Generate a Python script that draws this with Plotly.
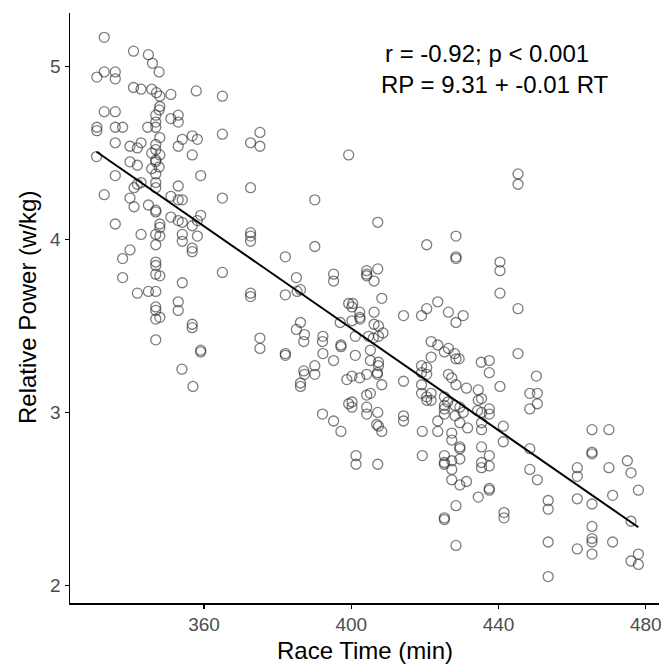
import numpy as np
import plotly.graph_objects as go

race_time = [
    332.9, 340.85, 344.9, 346.0, 347.8, 332.9, 330.9, 335.9, 335.9, 340.85,
    342.9, 345.8, 347.1, 348.0, 351.0, 357.9, 365.0, 348.0, 347.8, 332.9,
    335.9, 346.9, 351.0, 353.0, 353.0, 346.9, 346.9, 344.7, 330.9, 330.9,
    335.9, 337.9, 348.0, 342.9, 339.9, 341.9, 335.9, 353.0, 354.1, 356.8,
    358.2, 365.0, 372.65, 346.9, 346.9, 345.8, 348.0, 346.9, 356.8, 330.8,
    339.9, 341.9, 345.8, 347.8, 346.9, 335.9, 359.1, 346.9,
    342.9, 341.9, 341.0, 346.9, 346.9, 353.0, 332.9, 339.9, 351.0, 353.0,
    354.1, 365.0, 372.65, 341.0, 344.9, 346.9, 346.9, 335.9, 351.0, 353.0,
    354.1, 348.0, 356.8, 358.2, 359.1, 348.0, 342.9, 346.9, 348.0, 354.1,
    358.2, 372.65, 372.65, 372.65, 346.9, 354.1, 356.8, 356.8, 339.9, 337.9,
    346.9, 346.9, 346.9, 348.0, 337.9, 354.1, 365.0, 372.65, 372.65, 341.9,
    344.9, 346.9, 353.0, 353.0, 346.9, 346.9, 346.9, 348.0, 356.8,
    356.8, 346.9, 359.1, 359.1, 354.0, 357.0,
    375.2, 375.2, 399.3, 390.1, 407.2, 420.5, 390.1, 382.1, 385.1, 395.2,
    404.2, 404.2, 404.2, 407.2,
    395.2, 406.2, 382.1, 385.3, 386.2, 399.3, 400.2, 400.4, 402.3, 402.3,
    402.4, 406.2, 408.3, 414.2, 419.1, 420.5, 397.0, 400.2, 386.2, 385.1,
    387.3, 387.1, 375.2, 375.2, 392.3, 392.2, 397.2, 397.2, 392.3, 382.1,
    382.1, 395.2, 401.1, 401.1, 406.2, 407.4, 404.7, 406.0, 407.4, 408.6,
    405.2, 405.2, 407.4, 407.4, 407.1, 407.1, 404.2, 390.1, 390.1, 387.1,
    387.3, 398.8, 400.2, 402.3, 419.1, 419.1, 420.5, 420.5, 414.2, 386.2,
    408.3,
    386.2, 419.1, 419.1, 420.5, 420.5, 404.2, 405.2, 399.3, 400.2, 400.2,
    404.2, 404.2, 407.2, 392.2, 395.2, 397.2, 406.9, 407.4, 408.3, 414.2,
    414.2, 419.3, 401.3, 401.3, 407.2, 419.3,
    445.3, 445.3, 428.45, 428.45, 428.45, 440.4, 440.4,
    440.4, 445.3, 423.5, 426.4, 428.45, 430.4, 421.7, 423.5, 425.3, 426.4,
    421.7, 428.1, 428.45, 429.3, 435.3, 437.5, 437.5, 445.3, 450.3, 426.4,
    427.3,
    428.45, 431.3, 434.5, 440.4, 448.5, 450.55, 450.55, 448.5, 421.7, 421.7,
    425.3, 425.3, 425.3, 426.2, 428.2, 429.5, 430.4, 428.2, 425.3, 434.5,
    435.4, 434.3, 435.4, 437.5, 437.5, 423.5, 423.5, 429.5, 431.6, 435.4,
    435.4, 441.3, 441.3, 427.3, 427.3, 435.4, 429.5, 429.5, 425.3, 425.3,
    425.3, 427.3, 427.3, 429.5, 435.4, 435.4, 437.5, 437.5, 448.5, 448.5,
    450.55, 461.4, 461.4, 465.4, 465.4, 465.4, 427.3, 429.5, 431.3, 437.5,
    434.5, 437.5, 428.45, 425.3, 425.3, 441.5, 441.5, 453.5, 453.5, 461.4,
    465.4, 428.45, 453.5, 461.4, 465.4, 465.4, 465.4, 465.4, 453.5,
    470.0, 470.0, 471.0, 471.0, 475.0, 476.0, 476.0, 476.0, 478.0, 478.0, 478.0,
]

rel_power = [
    5.17, 5.09, 5.07, 5.02, 4.97, 4.97, 4.94, 4.97, 4.93, 4.88,
    4.87, 4.87, 4.85, 4.83, 4.84, 4.86, 4.83, 4.77, 4.75, 4.74,
    4.74, 4.72, 4.70, 4.72, 4.68, 4.68, 4.65, 4.65, 4.65, 4.63,
    4.65, 4.65, 4.59, 4.56, 4.54, 4.53, 4.56, 4.54, 4.58, 4.60,
    4.58, 4.61, 4.56, 4.55, 4.52, 4.50, 4.49, 4.46, 4.49, 4.48,
    4.45, 4.43, 4.41, 4.42, 4.38, 4.37, 4.37, 4.45,
    4.33, 4.32, 4.30, 4.33, 4.30, 4.31, 4.26, 4.24, 4.25, 4.23,
    4.23, 4.24, 4.30, 4.19, 4.20, 4.17, 4.16, 4.09, 4.13, 4.11,
    4.10, 4.09, 4.08, 4.11, 4.14, 4.07, 4.03, 4.03, 4.02, 4.03,
    4.02, 4.04, 4.02, 3.99, 3.97, 3.99, 3.95, 3.93, 3.94, 3.89,
    3.87, 3.85, 3.80, 3.79, 3.78, 3.75, 3.81, 3.69, 3.67, 3.69,
    3.70, 3.70, 3.64, 3.59, 3.61, 3.59, 3.54, 3.55, 3.51,
    3.49, 3.42, 3.36, 3.35, 3.25, 3.15,
    4.62, 4.54, 4.49, 4.23, 4.10, 3.97, 3.96, 3.90, 3.78, 3.80,
    3.82, 3.80, 3.79, 3.83,
    3.76, 3.76, 3.68, 3.70, 3.71, 3.63, 3.61, 3.63, 3.58, 3.55,
    3.54, 3.58, 3.66, 3.56, 3.56, 3.60, 3.52, 3.53, 3.52, 3.48,
    3.45, 3.41, 3.43, 3.37, 3.44, 3.41, 3.39, 3.38, 3.34, 3.34,
    3.33, 3.30, 3.44, 3.33, 3.51, 3.50, 3.44, 3.43, 3.44, 3.46,
    3.36, 3.30, 3.29, 3.27, 3.23, 3.22, 3.22, 3.27, 3.22, 3.24,
    3.22, 3.19, 3.21, 3.20, 3.27, 3.23, 3.26, 3.22, 3.18, 3.17,
    3.16,
    3.15, 3.16, 3.11, 3.09, 3.07, 3.10, 3.11, 3.05, 3.06, 3.03,
    3.03, 2.99, 3.00, 2.99, 2.95, 2.89, 2.93, 2.92, 2.89, 2.98,
    2.95, 2.89, 2.75, 2.70, 2.70, 2.75,
    4.38, 4.32, 4.02, 3.90, 3.89, 3.87, 3.82,
    3.69, 3.60, 3.64, 3.58, 3.52, 3.56, 3.41, 3.39, 3.35, 3.37,
    3.32, 3.34, 3.31, 3.31, 3.29, 3.30, 3.23, 3.34, 3.21, 3.22,
    3.20,
    3.16, 3.14, 3.13, 3.15, 3.11, 3.11, 3.05, 3.02, 3.11, 3.07,
    3.09, 3.04, 3.02, 3.06, 3.04, 3.03, 3.00, 2.98, 2.99, 3.07,
    3.08, 3.01, 3.00, 3.02, 2.99, 2.95, 2.89, 2.94, 2.91, 2.94,
    2.90, 2.92, 2.83, 2.88, 2.84, 2.80, 2.80, 2.79, 2.75, 2.71,
    2.70, 2.72, 2.67, 2.73, 2.71, 2.68, 2.75, 2.69, 2.79, 2.67,
    2.61, 2.68, 2.63, 2.90, 2.77, 2.76, 2.61, 2.58, 2.60, 2.56,
    2.51, 2.55, 2.46, 2.39, 2.38, 2.42, 2.39, 2.49, 2.44, 2.50,
    2.47, 2.23, 2.25, 2.21, 2.34, 2.27, 2.25, 2.18, 2.05,
    2.90, 2.68, 2.52, 2.25, 2.72, 2.65, 2.37, 2.14, 2.55, 2.18, 2.12,
]

x_ticks = [360, 400, 440, 480]
y_ticks = [2, 3, 4, 5]
x_title = "Race Time (min)"
y_title = "Relative Power (w/kg)"
stat_line = "r = -0.92; p < 0.001"
eq_line = "RP = 9.31 + -0.01 RT"

x_arr = np.array(race_time)
y_arr = np.array(rel_power)
slope, intercept = np.polyfit(x_arr, y_arr, 1)
fit_x = np.array([x_arr.min(), x_arr.max()])
fit_y = intercept + slope * fit_x

FONT = "Liberation Sans, Arial, sans-serif"

fig = go.Figure()
fig.add_trace(go.Scatter(
    x=race_time, y=rel_power, mode="markers",
    marker=dict(symbol="circle-open", size=10, color="rgba(45,45,45,0.62)",
                line=dict(width=1.3, color="rgba(45,45,45,0.62)")),
    showlegend=False, hoverinfo="skip",
))
fig.add_trace(go.Scatter(
    x=fit_x, y=fit_y, mode="lines",
    line=dict(color="black", width=2), showlegend=False, hoverinfo="skip",
))

# statistics text (top right, inside the panel)
fig.add_annotation(x=0.532, y=0.932, xref="paper", yref="paper", text=stat_line,
                   showarrow=False, xanchor="left", yanchor="middle",
                   font=dict(family=FONT, size=24, color="black"))
fig.add_annotation(x=0.525, y=0.879, xref="paper", yref="paper", text=eq_line,
                   showarrow=False, xanchor="left", yanchor="middle",
                   font=dict(family=FONT, size=24, color="black"))

# axis titles
fig.add_annotation(x=0.5, y=-0.080, xref="paper", yref="paper", text=x_title,
                   showarrow=False, xanchor="center", yanchor="middle",
                   font=dict(family=FONT, size=24, color="black"))
fig.add_annotation(x=-0.073, y=0.5, xref="paper", yref="paper", text=y_title,
                   showarrow=False, xanchor="center", yanchor="middle", textangle=-90,
                   font=dict(family=FONT, size=24, color="black"))

fig.update_layout(
    width=668, height=666,
    margin=dict(l=70, r=6, t=13, b=63),
    paper_bgcolor="white", plot_bgcolor="white",
    font=dict(family=FONT),
)
fig.update_xaxes(
    range=[323.6, 483.6], tickvals=x_ticks, ticktext=[str(v) for v in x_ticks],
    showgrid=False, zeroline=False, showline=True, linecolor="black", linewidth=1.5,
    ticks="outside", ticklen=4, tickwidth=1.2, tickcolor="black",
    tickfont=dict(family=FONT, size=19, color="#4D4D4D"),
)
fig.update_yaxes(
    range=[1.897, 5.311], tickvals=y_ticks, ticktext=[str(v) for v in y_ticks],
    showgrid=False, zeroline=False, showline=True, linecolor="black", linewidth=1.5,
    ticks="outside", ticklen=4, tickwidth=1.2, tickcolor="black",
    tickfont=dict(family=FONT, size=19, color="#4D4D4D"),
)

fig.write_html(
    "out.html",
    config={"displayModeBar": False, "staticPlot": True},
    post_script="document.body.style.margin='0';document.body.style.padding='0';"
                "document.body.style.overflow='hidden';",
)
